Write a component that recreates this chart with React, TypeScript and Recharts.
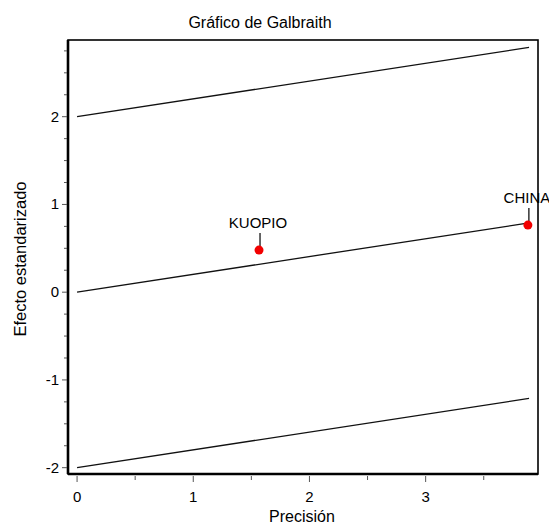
import React from 'react';
import {
  ComposedChart,
  Line,
  Scatter,
  XAxis,
  YAxis,
  Label,
} from 'recharts';

// Galbraith plot: standardized effect vs. precision for each study,
// with the regression line through the origin and its ±2 band.
const studyNames = ['KUOPIO', 'CHINA'];
const studyPrecision = [1.566, 3.88];
const studyEffect = [0.48, 0.765];

const bandX = [0, 3.89];
const upperBand = [2, 2.79];
const centerLine = [0, 0.79];
const lowerBand = [-2, -1.21];

const xTicks = [0, 0.5, 1, 1.5, 2, 2.5, 3, 3.5];
const yTicks = [
  -2, -1.75, -1.5, -1.25, -1, -0.75, -0.5, -0.25, 0, 0.25, 0.5, 0.75, 1, 1.25,
  1.5, 1.75, 2, 2.25, 2.5, 2.75,
];

const xDomain: [number, number] = [-0.078, 3.967];
const yDomain: [number, number] = [-2.072, 2.874];

const FONT = '"Liberation Sans", Arial, sans-serif';

// Chart layout
const CHART_W = 549;
const CHART_H = 524;
const MARGIN = { top: 40, right: 11, bottom: 0, left: 0 };
const Y_AXIS_W = 68;
const X_AXIS_H = 50;
const PLOT_LEFT = MARGIN.left + Y_AXIS_W;
const PLOT_TOP = MARGIN.top;
const PLOT_W = CHART_W - PLOT_LEFT - MARGIN.right;
const PLOT_H = CHART_H - PLOT_TOP - MARGIN.bottom - X_AXIS_H;

const bandData = bandX.map((x, i) => ({
  x,
  upper: upperBand[i],
  center: centerLine[i],
  lower: lowerBand[i],
}));

const studyData = studyNames.map((name, i) => ({
  name,
  x: studyPrecision[i],
  y: studyEffect[i],
}));

const isMajor = (v: number) => Math.abs(v - Math.round(v)) < 1e-9;

const XTick = (props: any) => {
  const { x, y, payload } = props;
  const v = payload.value as number;
  const major = isMajor(v);
  return (
    <g>
      <line x1={x} x2={x} y1={y + 2} y2={y + (major ? 8 : 6)} stroke="#555" strokeWidth={1} />
      {major && (
        <text x={x} y={y + 28} textAnchor="middle" fontSize={15} fontFamily={FONT} fill="#000">
          {v}
        </text>
      )}
    </g>
  );
};

const YTick = (props: any) => {
  const { x, y, payload } = props;
  const v = payload.value as number;
  const major = isMajor(v);
  return (
    <g>
      <line x1={x - 1} x2={x - (major ? 6 : 4)} y1={y} y2={y} stroke="#555" strokeWidth={1} />
      {major && (
        <text x={x - 9} y={y + 5} textAnchor="end" fontSize={15} fontFamily={FONT} fill="#000">
          {v}
        </text>
      )}
    </g>
  );
};

const StudyPoint = (props: any) => {
  const { cx, cy, payload } = props;
  return (
    <g>
      <line x1={cx + 1} x2={cx + 1} y1={cy - 17} y2={cy - 4} stroke="#000" strokeWidth={1.2} />
      <text x={cx - 1} y={cy - 22} textAnchor="middle" fontSize={15} fontFamily={FONT} fill="#000">
        {payload.name}
      </text>
      <circle cx={cx} cy={cy} r={4.5} fill="#f20000" />
    </g>
  );
};

export default function App() {
  return (
    <div style={{ position: 'absolute', left: 0, top: 0, width: CHART_W, height: CHART_H, background: '#fff' }}>
      <ComposedChart width={CHART_W} height={CHART_H} margin={MARGIN}>
        {/* plot box outline */}
        <rect
          x={PLOT_LEFT}
          y={PLOT_TOP}
          width={PLOT_W}
          height={PLOT_H}
          fill="none"
          stroke="#000"
          strokeWidth={1.6}
        />
        <XAxis
          type="number"
          dataKey="x"
          domain={xDomain}
          ticks={xTicks}
          interval={0}
          tick={<XTick />}
          tickLine={false}
          tickSize={0}
          tickMargin={0}
          height={X_AXIS_H}
          axisLine={{ stroke: '#000', strokeWidth: 2.6 }}
        >
          <Label
            content={() => (
              <text x={302} y={522} textAnchor="middle" fontSize={16} fontFamily={FONT} fill="#000">
                Precisión
              </text>
            )}
          />
        </XAxis>
        <YAxis
          type="number"
          domain={yDomain}
          ticks={yTicks}
          interval={0}
          tick={<YTick />}
          tickLine={false}
          tickSize={0}
          tickMargin={0}
          width={Y_AXIS_W}
          axisLine={{ stroke: '#000', strokeWidth: 2.6 }}
        >
          <Label
            content={() => (
              <text
                x={26}
                y={259}
                transform="rotate(-90 26 259)"
                textAnchor="middle"
                fontSize={16.5}
                fontFamily={FONT}
                fill="#000"
              >
                Efecto estandarizado
              </text>
            )}
          />
        </YAxis>
        <Line data={bandData} dataKey="upper" stroke="#111" strokeWidth={1.3} dot={false} isAnimationActive={false} />
        <Line data={bandData} dataKey="center" stroke="#111" strokeWidth={1.3} dot={false} isAnimationActive={false} />
        <Line data={bandData} dataKey="lower" stroke="#111" strokeWidth={1.3} dot={false} isAnimationActive={false} />
        <Scatter data={studyData} dataKey="y" shape={<StudyPoint />} isAnimationActive={false} />
        <text x={260} y={28} textAnchor="middle" fontSize={16} fontFamily={FONT} fill="#000">
          Gráfico de Galbraith
        </text>
      </ComposedChart>
    </div>
  );
}
